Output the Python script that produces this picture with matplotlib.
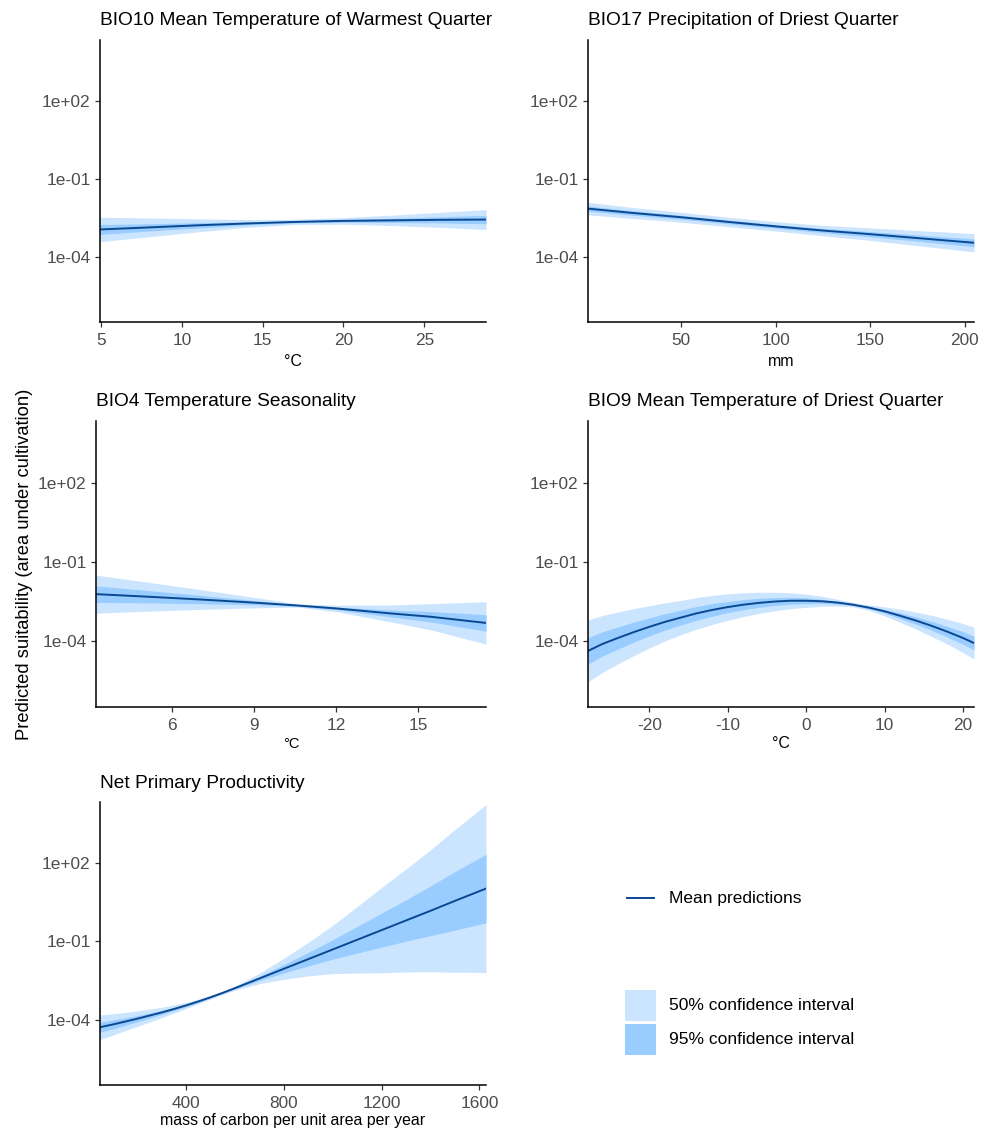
import numpy as np
import matplotlib
matplotlib.use('Agg')
import matplotlib.pyplot as plt
from matplotlib.patches import Rectangle
from matplotlib.lines import Line2D

plt.rcParams['font.family'] = ['Liberation Sans', 'DejaVu Sans']
plt.rcParams['axes.unicode_minus'] = False

# ---------------- data (log10 of predicted suitability) ----------------
# mean = log10 mean prediction; *_hw = half-width of band (log10 units)
# BIO10 Mean Temperature of Warmest Quarter
bio10_x = [4.94, 8, 11, 14, 17, 20, 23, 26, 28.82]
bio10_mean = [-2.94, -2.86, -2.78, -2.71, -2.65, -2.61, -2.59, -2.57, -2.56]
bio10_ci50_hw = [0.47, 0.36, 0.25, 0.15, 0.10, 0.13, 0.20, 0.29, 0.38]
bio10_ci95_hw = [0.19, 0.14, 0.10, 0.06, 0.04, 0.05, 0.08, 0.12, 0.16]

# BIO17 Precipitation of Driest Quarter
bio17_x = [0.74, 25, 50, 75, 100, 125, 150, 175, 205]
bio17_mean = [-2.14, -2.31, -2.47, -2.65, -2.82, -2.98, -3.12, -3.27, -3.45]
bio17_ci50_hw = [0.24, 0.21, 0.19, 0.18, 0.18, 0.20, 0.24, 0.29, 0.35]
bio17_ci95_hw = [0.10, 0.085, 0.075, 0.07, 0.07, 0.08, 0.10, 0.12, 0.15]

# BIO4 Temperature Seasonality
bio4_x = [3.24, 5, 7, 9, 10.6, 12, 14, 15.5, 17.48]
bio4_mean = [-2.22, -2.31, -2.42, -2.54, -2.65, -2.76, -2.95, -3.08, -3.31]
bio4_ci50_hw = [0.72, 0.56, 0.38, 0.20, 0.06, 0.12, 0.32, 0.50, 0.80]
bio4_ci95_hw = [0.31, 0.24, 0.16, 0.08, 0.03, 0.05, 0.13, 0.20, 0.31]

# BIO9 Mean Temperature of Driest Quarter
bio9_x = [-27.8, -26, -24, -22, -20, -18, -16, -14, -12, -10, -8, -6, -4, -2,
          0, 2, 4, 6, 8, 10, 12, 14, 16, 18, 20, 21.4]
bio9_mean = [-4.37, -4.11, -3.88, -3.66, -3.46, -3.27, -3.11, -2.95, -2.82, -2.71,
             -2.62, -2.55, -2.50, -2.47, -2.47, -2.49, -2.54, -2.62, -2.73, -2.87,
             -3.04, -3.22, -3.42, -3.64, -3.88, -4.07]
bio9_ci50_hw = [1.17, 1.08, 0.98, 0.89, 0.80, 0.72, 0.65, 0.60, 0.55, 0.50,
                0.45, 0.40, 0.35, 0.30, 0.25, 0.19, 0.13, 0.08, 0.10, 0.17,
                0.25, 0.32, 0.40, 0.47, 0.55, 0.60]
bio9_ci95_hw = [0.50, 0.46, 0.42, 0.38, 0.34, 0.31, 0.28, 0.26, 0.24, 0.21,
                0.19, 0.17, 0.15, 0.13, 0.11, 0.08, 0.055, 0.035, 0.045, 0.07,
                0.11, 0.14, 0.17, 0.20, 0.24, 0.26]

# Net Primary Productivity
npp_x = [49.5, 100, 150, 200, 250, 300, 350, 400, 450, 500, 550, 600, 700, 800,
         900, 1000, 1100, 1200, 1300, 1400, 1500, 1627]
npp_mean = [-4.28, -4.18, -4.07, -3.96, -3.84, -3.72, -3.59, -3.45, -3.30, -3.14,
            -2.97, -2.79, -2.42, -2.05, -1.68, -1.31, -0.94, -0.57, -0.20, 0.17,
            0.55, 1.02]
npp_ci50_hw = [0.47, 0.41, 0.35, 0.30, 0.25, 0.20, 0.16, 0.12, 0.09, 0.07,
               0.06, 0.08, 0.20, 0.40, 0.64, 0.92, 1.27, 1.63, 1.97, 2.33,
               2.73, 3.21]
npp_ci95_hw = [0.19, 0.17, 0.145, 0.12, 0.10, 0.08, 0.065, 0.05, 0.037, 0.03,
               0.025, 0.033, 0.08, 0.16, 0.26, 0.37, 0.51, 0.65, 0.79, 0.95,
               1.12, 1.31]

titles = ["BIO10 Mean Temperature of Warmest Quarter",
          "BIO17 Precipitation of Driest Quarter",
          "BIO4 Temperature Seasonality",
          "BIO9 Mean Temperature of Driest Quarter",
          "Net Primary Productivity"]
xlabels = ["°C", "mm", "°C", "°C", "mass of carbon per unit area per year"]
xtick_sets = [[5, 10, 15, 20, 25], [50, 100, 150, 200], [6, 9, 12, 15],
              [-20, -10, 0, 10, 20], [400, 800, 1200, 1600]]
ytick_vals = [1e-4, 1e-1, 1e2]
ytick_labels = ["1e-04", "1e-01", "1e+02"]
ylabel = "Predicted suitability (area under cultivation)"
legend_labels = ["Mean predictions", "50% confidence interval", "95% confidence interval"]

panels = [
    (bio10_x, bio10_mean, bio10_ci50_hw, bio10_ci95_hw),
    (bio17_x, bio17_mean, bio17_ci50_hw, bio17_ci95_hw),
    (bio4_x, bio4_mean, bio4_ci50_hw, bio4_ci95_hw),
    (bio9_x, bio9_mean, bio9_ci50_hw, bio9_ci95_hw),
    (npp_x, npp_mean, npp_ci50_hw, npp_ci95_hw),
]

# ---------------- style / layout ----------------
LIGHT = '#CCE5FF'
DARK = '#99CCFF'
LINE = '#0A4892'
W, H = 992, 1132
fig = plt.figure(figsize=(W / 100, H / 100), dpi=100)

# (left, top, right, bottom) in pixels
boxes = [(100, 40, 486, 322), (588, 40, 974, 322),
         (96, 421, 486, 707), (588, 421, 974, 707),
         (100, 802, 486, 1085)]
title_base = [25, 25, 406, 406, 788]
xlabel_base = [366, 366, 748, 748, 1125]
xlabel_size = [11.4, 11.4, 10.5, 11.4, 11.4]

for i, (box, data) in enumerate(zip(boxes, panels)):
    l, t, r, b = box
    ax = fig.add_axes([l / W, 1 - b / H, (r - l) / W, (b - t) / H])
    x, mean, hw50, hw95 = [np.asarray(d, float) for d in data]
    ax.fill_between(x, 10 ** (mean - hw50), 10 ** (mean + hw50), color=LIGHT, lw=0)
    ax.fill_between(x, 10 ** (mean - hw95), 10 ** (mean + hw95), color=DARK, lw=0)
    ax.plot(x, 10 ** mean, color=LINE, lw=1.4)
    ax.set_yscale('log')
    ax.set_ylim(10 ** -6.49, 10 ** 4.33)
    ax.set_xlim(x[0], x[-1])
    ax.set_yticks(ytick_vals)
    ax.set_yticklabels(ytick_labels)
    ax.minorticks_off()
    ax.set_xticks(xtick_sets[i])
    ax.set_xticklabels([str(v) for v in xtick_sets[i]])
    for s in ['top', 'right']:
        ax.spines[s].set_visible(False)
    for s in ['left', 'bottom']:
        ax.spines[s].set_linewidth(1.1)
        ax.spines[s].set_color('black')
    ax.tick_params(axis='both', length=3.6, width=0.9, color='#333333',
                   labelcolor='#4D4D4D', labelsize=12.4)
    ax.tick_params(axis='x', pad=4.0)
    ax.tick_params(axis='y', pad=3.2)
    fig.text(l / W, 1 - title_base[i] / H, titles[i], fontsize=13.8,
             ha='left', va='baseline', color='black')
    fig.text((l + r) / 2 / W, 1 - xlabel_base[i] / H, xlabels[i],
             fontsize=xlabel_size[i], ha='center', va='baseline', color='black')

fig.text(25 / W, 1 - 564 / H, ylabel, rotation=90, fontsize=13.2,
         ha='center', va='center', color='black')

# ---------------- legend ----------------
lax = fig.add_axes([0, 0, 1, 1])
lax.set_xlim(0, W)
lax.set_ylim(H, 0)
lax.axis('off')
lax.add_line(Line2D([627, 654], [898, 898], color=LINE, lw=1.4))
lax.text(669, 898, legend_labels[0], fontsize=12.5, va='center', ha='left')
lax.add_patch(Rectangle((625, 990), 31, 31, facecolor=LIGHT, edgecolor='none'))
lax.add_patch(Rectangle((625, 1024), 31, 31, facecolor=DARK, edgecolor='none'))
lax.text(669, 1006, legend_labels[1], fontsize=12.5, va='center', ha='left')
lax.text(669, 1040, legend_labels[2], fontsize=12.5, va='center', ha='left')

fig.savefig('out.png', dpi=100)
